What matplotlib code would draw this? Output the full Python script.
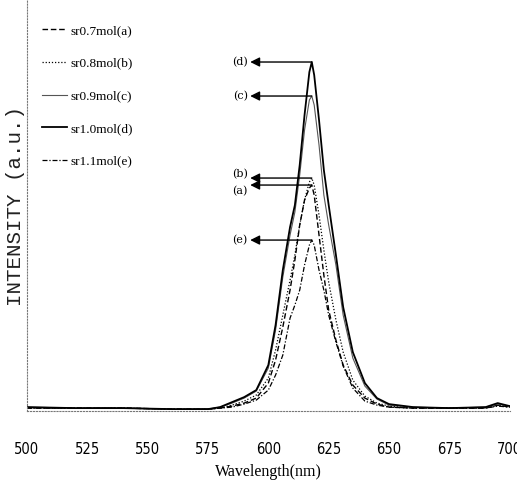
import matplotlib
matplotlib.use("Agg")
import matplotlib.pyplot as plt

wavelength = [500, 520, 540, 560, 575, 580, 585, 590, 595, 600, 603, 606, 609, 611,
              613, 615, 617, 618, 619, 621, 623, 625, 628, 631, 635, 640, 645, 650,
              660, 675, 690, 695, 700]

sr07 = [2, 2, 2, 1, 1, 2, 4, 7, 12, 27, 50, 83, 120, 150, 185, 210, 222, 225, 215,
        175, 135, 100, 70, 45, 25, 12, 6, 3, 2, 2, 2, 5, 3]
sr08 = [2, 2, 2, 1, 1, 2, 5, 9, 15, 32, 60, 95, 130, 155, 185, 210, 228, 232, 225,
        195, 160, 128, 90, 58, 30, 14, 7, 4, 2, 2, 2, 5, 3]
sr09 = [3, 2, 2, 1, 1, 3, 7, 12, 19, 42, 80, 133, 175, 198, 235, 280, 310, 314, 305,
        265, 215, 185, 145, 95, 52, 24, 11, 5, 3, 2, 3, 6, 4]
sr10 = [3, 2, 2, 1, 1, 3, 8, 13, 20, 45, 85, 140, 183, 205, 245, 295, 338, 348, 335,
        290, 240, 205, 155, 103, 58, 27, 12, 6, 3, 2, 3, 7, 4]
sr11 = [2, 2, 2, 1, 1, 2, 3, 6, 10, 20, 35, 55, 92, 105, 120, 145, 165, 170, 165,
        140, 120, 95, 68, 44, 22, 9, 5, 3, 2, 2, 2, 4, 3]

labels = ['sr0.7mol(a)', 'sr0.8mol(b)', 'sr0.9mol(c)', 'sr1.0mol(d)', 'sr1.1mol(e)']
tags = ['(a)', '(b)', '(c)', '(d)', '(e)']
peak_wl = [618, 618, 618, 618, 618]
peak_val = [225, 232, 314, 348, 170]
tag_y = [219, 236, 314, 348, 170]

fig = plt.figure(figsize=(5.17, 4.9), dpi=100)
ax = fig.add_axes([0.052, 0.161, 0.934, 0.839])

ax.plot(wavelength, sr07, color='black', lw=1.0, ls=(0, (4, 2)), label=labels[0])
ax.plot(wavelength, sr08, color='black', lw=0.9, ls=(0, (1, 1.5)), label=labels[1])
ax.plot(wavelength, sr09, color='#555555', lw=0.8, ls='-', label=labels[2])
ax.plot(wavelength, sr10, color='black', lw=1.3, ls='-', label=labels[3])
ax.plot(wavelength, sr11, color='black', lw=0.9, ls=(0, (4, 1.5, 1, 1.5)), label=labels[4])

# arrows from each peak to its tag
for t, px, pv, ty in zip(tags, peak_wl, peak_val, tag_y):
    ax.annotate('', xy=(592.5, pv), xytext=(px, pv),
                arrowprops=dict(arrowstyle='-|>', color='black', lw=1.0,
                                mutation_scale=14, shrinkA=0, shrinkB=0))
    ax.text(591.5, ty, t, ha='right', va='center', fontsize=8, family='DejaVu Serif')

ax.set_xlim(500, 700)
ax.set_ylim(-1, 410)
ax.set_xticks([500, 525, 550, 575, 600, 625, 650, 675, 700])
ax.set_yticks([])
ax.tick_params(axis='x', length=0, pad=22)
for lab in ax.get_xticklabels():
    lab.set_family('DejaVu Sans')
    lab.set_stretch('condensed')
    lab.set_fontsize(10.5)

ax.spines['top'].set_visible(False)
ax.spines['right'].set_visible(False)
ax.spines['left'].set_linestyle(':')
ax.spines['left'].set_color('#777777')
ax.spines['bottom'].set_linestyle(':')
ax.spines['bottom'].set_color('#777777')

ax.set_xlabel('Wavelength(nm)', family='Liberation Serif', fontsize=11.5, labelpad=5)
ax.set_ylabel('INTENSITY (a.u.)', family='Liberation Mono', fontsize=15,
              labelpad=1, color='#222222')

ax.legend(loc='upper left', frameon=False, handlelength=1.9, labelspacing=1.55,
          handletextpad=0.25, borderaxespad=0.0, bbox_to_anchor=(0.02, 0.953),
          prop={'family': 'Liberation Serif', 'size': 9.5})

fig.savefig('out.png', dpi=100)
